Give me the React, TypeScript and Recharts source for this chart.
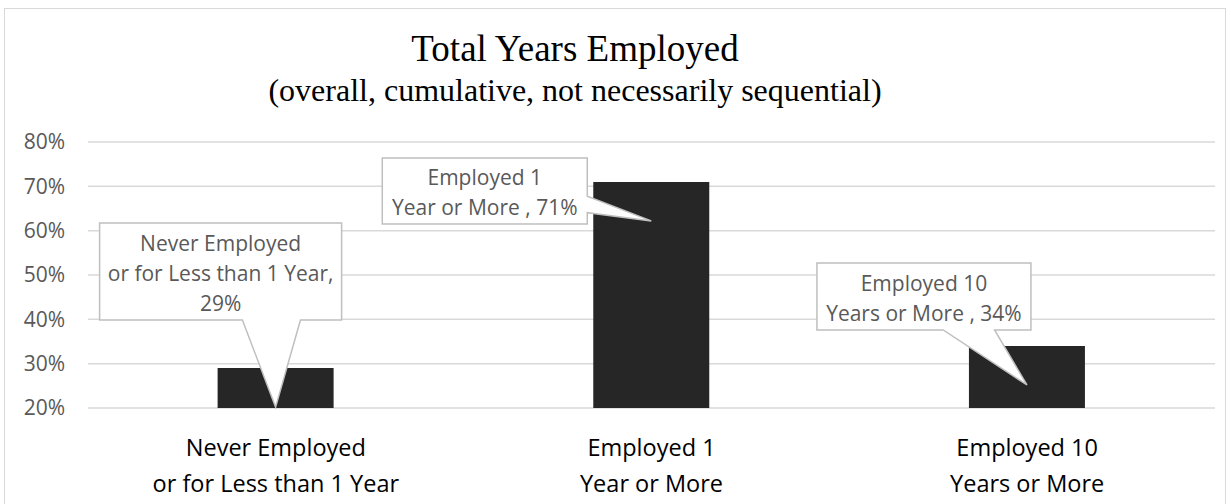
import { BarChart, Bar, XAxis, YAxis, CartesianGrid, LabelList } from "recharts";

const categories = [
  "Never Employed\nor for Less than 1 Year",
  "Employed 1\nYear or More",
  "Employed 10\nYears or More",
];
const shares = [29, 71, 34];
const yTicks = [20, 30, 40, 50, 60, 70, 80];
// callout wording, {v} is replaced by the value
const calloutText = [
  ["Never Employed", "or for Less than 1 Year,", "{v}%"],
  ["Employed 1", "Year or More , {v}%"],
  ["Employed 10", "Years or More , {v}%"],
];

// box placement relative to the pointer tip
const calloutBox = [
  { dx: -176, dy: -184, w: 242, h: 97, side: "bottom" },
  { dx: -269, dy: -63, w: 205, h: 66, side: "right" },
  { dx: -210, dy: -122, w: 214, h: 67, side: "bottom" },
];

const data = categories.map((name, i) => ({ name, value: shares[i] }));

const FONT = "'Open Sans', sans-serif";

function Callout(props: any) {
  const { x, y, width, height, index, value } = props;
  const tx = x + width / 2;
  const ty = Math.min(y + 39, y + height);
  const b = calloutBox[index];
  const L = tx + b.dx;
  const T = ty + b.dy;
  const R = L + b.w;
  const B = T + b.h;
  let d = "";
  if (b.side === "bottom") {
    const p1 = L + b.w * 0.59;
    const p2 = L + b.w * 0.83;
    d = `M${L},${T} L${R},${T} L${R},${B} L${p2},${B} L${tx},${ty} L${p1},${B} L${L},${B} Z`;
  } else {
    const p1 = T + b.h * 0.58;
    const p2 = T + b.h * 0.83;
    d = `M${L},${T} L${R},${T} L${R},${p1} L${tx},${ty} L${R},${p2} L${R},${B} L${L},${B} Z`;
  }
  const lines = calloutText[index].map((s) => s.replace("{v}", String(value)));
  const cy = (T + B) / 2 + 1.5;
  const lh = 30;
  return (
    <g>
      <path d={d} fill="#fff" stroke="#bfbfbf" strokeWidth={1.5} />
      {lines.map((s, k) => (
        <text
          key={k}
          x={(L + R) / 2}
          y={cy + (k - (lines.length - 1) / 2) * lh}
          textAnchor="middle"
          dominantBaseline="central"
          fontFamily={FONT}
          fontSize={21}
          fill="#595959"
        >
          {s}
        </text>
      ))}
    </g>
  );
}

function CategoryTick(props: any) {
  const { x, y, payload } = props;
  const lines = String(payload.value).split("\n");
  return (
    <g>
      {lines.map((s, k) => (
        <text
          key={k}
          x={x}
          y={y + 31 + k * 36}
          textAnchor="middle"
          dominantBaseline="central"
          fontFamily={FONT}
          fontSize={23.5}
          fill="#000"
        >
          {s}
        </text>
      ))}
    </g>
  );
}

export default function App() {
  return (
    <div style={{ position: "fixed", left: 0, top: 0, width: 1231, height: 504, background: "#fff", overflow: "hidden" }}>
      <div style={{ position: "absolute", left: 4, top: 8, width: 1222, height: 520, border: "1.5px solid #d9d9d9", boxSizing: "border-box" }} />
      <div style={{ position: "absolute", left: 0, top: 0, width: 1150, textAlign: "center", fontFamily: "'Liberation Serif', serif", color: "#000" }}>
        <div style={{ position: "absolute", top: 27, width: "100%", fontSize: 37, lineHeight: "44px" }}>Total Years Employed</div>
        <div style={{ position: "absolute", top: 71, width: "100%", fontSize: 32, lineHeight: "38px" }}>
          (overall, cumulative, not necessarily sequential)
        </div>
      </div>
      <BarChart
        width={1231}
        height={504}
        data={data}
        margin={{ top: 142, right: 16, bottom: 0, left: 0 }}
        barCategoryGap="34.5%"
      >
        <CartesianGrid vertical={false} stroke="#d9d9d9" strokeWidth={1.5} />
        <XAxis dataKey="name" axisLine={false} tickLine={false} height={96} interval={0} tick={<CategoryTick />} />
        <YAxis
          domain={[20, 80]}
          ticks={yTicks}
          width={88}
          axisLine={false}
          tickLine={false}
          tickSize={0}
          tickMargin={23}
          tickFormatter={(v: number) => `${v}%`}
          tick={{ fontFamily: FONT, fontSize: 21, fill: "#595959" }}
        />
        <Bar dataKey="value" fill="#262626" isAnimationActive={false}>
          <LabelList dataKey="value" content={<Callout />} />
        </Bar>
      </BarChart>
    </div>
  );
}
